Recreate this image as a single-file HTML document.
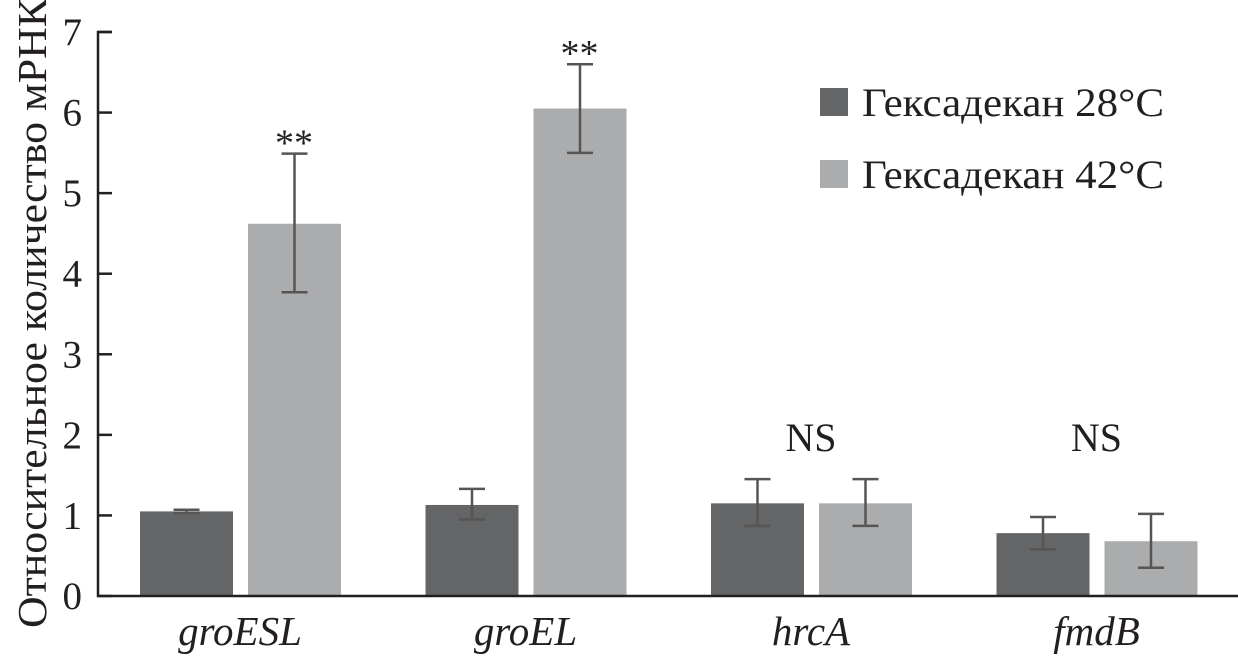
<!DOCTYPE html>
<html><head><meta charset="utf-8"><style>
html,body{margin:0;padding:0;background:#fff;width:1238px;height:657px;overflow:hidden}
svg text{font-family:"Liberation Serif","DejaVu Serif","Times New Roman",serif;fill:#231f20}
</style></head><body>
<svg id="chart" width="1238" height="657" viewBox="0 0 1238 657"></svg>
<script>
const categories=["groESL","groEL","hrcA","fmdB"];
const values28=[1.05,1.13,1.15,0.78];
const err28Low=[1.03,0.95,0.87,0.58];
const err28High=[1.07,1.33,1.45,0.98];
const values42=[4.62,6.05,1.15,0.68];
const err42Low=[3.77,5.5,0.87,0.35];
const err42High=[5.49,6.6,1.45,1.02];
const marks=["**","**","NS","NS"];
const yTicks=[0,1,2,3,4,5,6,7];
const seriesNames=["Гексадекан 28°C","Гексадекан 42°C"];

const NS="http://www.w3.org/2000/svg";
const svg=document.getElementById('chart');
const y0=596,y7=32,ax=98;
const FF='"Liberation Serif","DejaVu Serif",serif';
function y(v){return y0-(y0-y7)*v/7;}
function xg(i){return 140+i*285.5;}
function el(t,a,p){const e=document.createElementNS(NS,t);for(const k in a)e.setAttribute(k,a[k]);if(t==='text')e.setAttribute('font-family',FF);(p||svg).appendChild(e);return e;}

const yt=el('text',{x:0,y:0,'font-size':41,'text-anchor':'middle',textLength:630,lengthAdjust:'spacingAndGlyphs',transform:'translate(46,313) rotate(-90)'});


yt.textContent="Относительное количество мРНК";

yTicks.forEach(t=>{
  const l=el('line',{x1:ax,x2:ax+14,y1:y(t),y2:y(t),stroke:'#231f20','stroke-width':2.5});
  
  
  const tx=el('text',{x:82,y:y(t)+13,'font-size':39,'text-anchor':'end'});
  
  
  tx.textContent=t;
});

function bar(x,v,lo,hi,col,name){
  const r=el('rect',{x:x,y:y(v),width:93,height:y0-y(v),fill:col});
  
  
  const cx=x+46.5;
  const g=el('g',{stroke:'#555','stroke-width':2.5});
  
  
  el('line',{x1:cx,x2:cx,y1:y(lo),y2:y(hi)},g);
  el('line',{x1:cx-13,x2:cx+13,y1:y(hi),y2:y(hi)},g);
  el('line',{x1:cx-13,x2:cx+13,y1:y(lo),y2:y(lo)},g);
}
categories.forEach((c,i)=>{
  const x=xg(i);
  bar(x,values28[i],err28Low[i],err28High[i],'#646567','bar-'+c+'-28');
  bar(x+108,values42[i],err42Low[i],err42High[i],'#abacae','bar-'+c+'-42');
  const isStar=marks[i]==="**";
  const my=isStar?y(err42High[i])+2:451;
  const mx=isStar?x+154:x+100;
  const m=el('text',{x:mx,y:my,'font-size':isStar?38:40,'text-anchor':'middle'});
  
  
  m.textContent=marks[i];
  const lab=el('text',{x:x+100,y:645,'font-size':41,'font-style':'italic','text-anchor':'middle'});
  
  
  lab.textContent=c;
});

const axes=el('path',{d:`M${ax+14},${y7} H${ax} V${y0} H1238`,fill:'none',stroke:'#231f20','stroke-width':2.5});



const cols=['#646567','#abacae'];
seriesNames.forEach((s,i)=>{
  const g=el('g',{});
  
  
  el('rect',{x:820,y:88+i*72,width:28,height:28,fill:cols[i]},g);
  const t=el('text',{x:862,y:116+i*72,'font-size':40,textLength:302,lengthAdjust:'spacingAndGlyphs'},g);
  t.textContent=s;
});
</script>
</body></html>
